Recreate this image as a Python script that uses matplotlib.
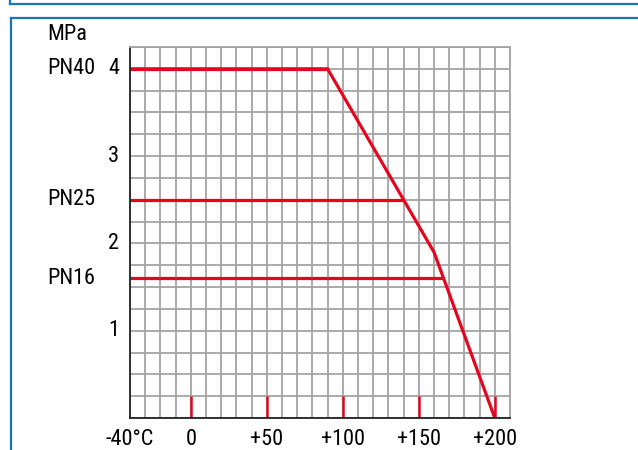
import matplotlib
matplotlib.use("Agg")
import matplotlib.pyplot as plt
from matplotlib.lines import Line2D
from matplotlib.transforms import blended_transform_factory
from matplotlib import font_manager
import numpy as np

# Pick a narrow sans face when one is available
_installed = {f.name for f in font_manager.fontManager.ttflist}
_candidates = ["Arial Narrow", "Liberation Sans Narrow", "Nimbus Sans Narrow",
               "Roboto Condensed", "Archivo Narrow", "PT Sans Narrow",
               "Liberation Sans"]
FONT = next(c for c in _candidates if c in _installed)
plt.rcParams['font.family'] = [FONT, 'DejaVu Sans']

# Pressure-temperature rating curve (MPa vs °C)
envelope_t = [-40, 90, 160, 200]
envelope_p = [4.0, 4.0, 1.9, 0.0]

pn_labels = ["PN40", "PN25", "PN16"]
pn_pressure = [4.0, 2.5, 1.6]
pn_end_temp = [90, 140, 166.3]

x_ticks = [-40, 0, 50, 100, 150, 200]
x_tick_labels = ["-40°C", "0", "+50", "+100", "+150", "+200"]
y_ticks = [1, 2, 3, 4]
marker_ticks = [0, 50, 100, 150, 200]

RED = "#E3061E"
BLUE = "#1A74BA"
GRID = "#A4A4A4"
FS = 16

fig = plt.figure(figsize=(6.38, 4.5), dpi=100)
W, H = 638, 450

# Frames around the figure
def fig_line(x0, y0, x1, y1):
    fig.add_artist(Line2D([x0 / W, x1 / W], [1 - y0 / H, 1 - y1 / H],
                          transform=fig.transFigure, color=BLUE, lw=1.6))

fig_line(10, 4, 640, 4)
fig_line(10, -2, 10, 4)
fig_line(11, 18, 640, 18)
fig_line(11, 18, 11, 452)

ax = fig.add_axes([130 / W, 1 - 418 / H, 380 / W, 371 / H])
ax.set_xlim(-40, 210)
ax.set_ylim(0, 4.25)

ax.set_xticks(np.arange(-40, 211, 10))
ax.set_yticks(np.arange(0, 4.26, 0.25))
ax.grid(color=GRID, lw=1.3)
ax.set_axisbelow(True)
ax.tick_params(length=0, labelbottom=False, labelleft=False)

for side in ("top", "right"):
    ax.spines[side].set_color(GRID)
    ax.spines[side].set_linewidth(1.3)
for side in ("left", "bottom"):
    ax.spines[side].set_color("#222222")
    ax.spines[side].set_linewidth(1.3)

# Red temperature markers along the bottom
for t in marker_ticks:
    ax.plot([t, t], [0, 0.25], color=RED, lw=1.8, solid_capstyle="butt")

# Rating envelope and nominal pressure lines
ax.plot(envelope_t, envelope_p, color=RED, lw=2.3, solid_joinstyle="miter")
for p, te in zip(pn_pressure, pn_end_temp):
    ax.plot([-40, te], [p, p], color=RED, lw=2.3, solid_capstyle="butt")

# Axis labels
xtrans = blended_transform_factory(ax.transData, fig.transFigure)
for t, lab in zip(x_ticks, x_tick_labels):
    ax.text(t, 1 - 445 / H, lab, transform=xtrans, fontsize=FS,
            ha="center", va="baseline", clip_on=False)

ytrans = blended_transform_factory(fig.transFigure, ax.transData)
for v in y_ticks:
    ax.text(119 / W, v, str(v), transform=ytrans, fontsize=FS,
            ha="right", va="center", clip_on=False)
for lab, p in zip(pn_labels, pn_pressure):
    ax.text(47 / W, p, lab, transform=ytrans, fontsize=FS,
            ha="left", va="center", clip_on=False)
fig.text(47 / W, 1 - 35 / H, "MPa", fontsize=FS, ha="left", va="center")

fig.savefig("out.png", dpi=100)
